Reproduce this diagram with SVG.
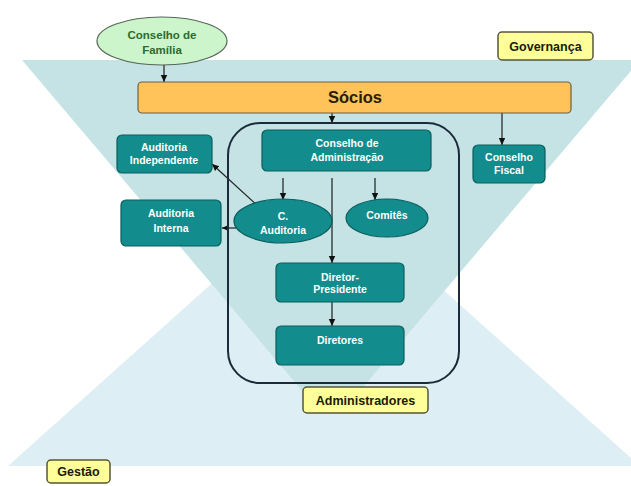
<svg xmlns="http://www.w3.org/2000/svg" width="631" height="486" viewBox="0 0 631 486">
<defs>
<style>
.box{fill:#128c8c;stroke:#0a5e5e;stroke-width:1.2}
.bt{fill:#ffffff;font-family:"Liberation Sans",Arial,sans-serif;font-weight:bold;font-size:10.5px;text-anchor:middle}
.lbl{fill:#ffff99;stroke:#55553a;stroke-width:1.5}
.lt{fill:#1a1a0a;font-family:"Liberation Sans",Arial,sans-serif;font-weight:bold;font-size:12.5px;text-anchor:middle}
.con{stroke:#1e1e1e;stroke-width:1.2;fill:none;marker-end:url(#ah)}
</style>
<marker id="ah" markerWidth="8" markerHeight="8" refX="7" refY="4" orient="auto" markerUnits="userSpaceOnUse">
<path d="M0,0.8 L7,4 L0,7.2 Z" fill="#111"/>
</marker>
</defs>
<rect width="631" height="486" fill="#ffffff"/>
<g id="background">
<polygon points="324,183 640,466 8,466" fill="#ddeff4"/>
<polygon points="22,60 640,60 343.6,410 318.4,410" fill="#c5e2e4"/>
</g>
<g id="connectors">
<line class="con" x1="164" y1="65" x2="164" y2="82"/>
<line class="con" x1="332" y1="113" x2="332" y2="123"/>
<line class="con" x1="502" y1="113" x2="502" y2="145"/>
<line class="con" x1="283" y1="178" x2="283" y2="200"/>
<line class="con" x1="375" y1="178" x2="375" y2="200"/>
<line class="con" x1="332" y1="178" x2="332" y2="263"/>
<line class="con" x1="332" y1="302" x2="332" y2="326"/>
<line class="con" x1="259" y1="207" x2="212" y2="164"/>
<line class="con" x1="236" y1="228" x2="222" y2="228"/>
</g>
<g id="container-administradores">
<rect x="228" y="123" width="231" height="260" rx="32" ry="32" fill="none" stroke="#1c2a3a" stroke-width="2"/>
</g>
<g id="conselho-familia">
<ellipse cx="162" cy="41" rx="65" ry="24" fill="#ccf5cc" stroke="#556655" stroke-width="1.2"/>
<text x="162" y="39" fill="#2d6b2d" font-family="Liberation Sans, Arial, sans-serif" font-weight="bold" font-size="11.5" text-anchor="middle">Conselho de</text>
<text x="162" y="54" fill="#2d6b2d" font-family="Liberation Sans, Arial, sans-serif" font-weight="bold" font-size="11.5" text-anchor="middle">Família</text>
</g>
<g id="governanca">
<rect class="lbl" x="498" y="32" width="95" height="28" rx="4"/>
<text class="lt" x="545.5" y="50.5">Governança</text>
</g>
<g id="socios">
<rect x="138" y="82" width="433" height="31" rx="4" fill="#ffc35a" stroke="#6e6040" stroke-width="1.2"/>
<text x="355" y="103" fill="#2a1c00" font-family="Liberation Sans, Arial, sans-serif" font-weight="bold" font-size="16.5" text-anchor="middle">Sócios</text>
</g>
<g id="conselho-administracao">
<rect class="box" x="262" y="130" width="169" height="41" rx="5"/>
<text class="bt" x="347" y="147">Conselho de</text>
<text class="bt" x="347" y="161">Administração</text>
</g>
<g id="conselho-fiscal">
<rect class="box" x="473" y="145" width="72" height="38" rx="5"/>
<text class="bt" x="509" y="161">Conselho</text>
<text class="bt" x="509" y="174">Fiscal</text>
</g>
<g id="auditoria-independente">
<rect class="box" x="117" y="135" width="95" height="38" rx="5"/>
<text class="bt" x="164" y="151">Auditoria</text>
<text class="bt" x="164" y="164">Independente</text>
</g>
<g id="auditoria-interna">
<rect class="box" x="121" y="200" width="100" height="46" rx="5"/>
<text class="bt" x="171" y="217">Auditoria</text>
<text class="bt" x="171" y="232">Interna</text>
</g>
<g id="c-auditoria">
<ellipse class="box" cx="283" cy="221" rx="49" ry="22"/>
<text class="bt" x="283" y="220">C.</text>
<text class="bt" x="283" y="234">Auditoria</text>
</g>
<g id="comites">
<ellipse class="box" cx="387" cy="218" rx="41" ry="19"/>
<text class="bt" x="387" y="219">Comitês</text>
</g>
<g id="diretor-presidente">
<rect class="box" x="276" y="263" width="128" height="39" rx="5"/>
<text class="bt" x="340" y="281">Diretor-</text>
<text class="bt" x="340" y="293">Presidente</text>
</g>
<g id="diretores">
<rect class="box" x="276" y="326" width="128" height="39" rx="5"/>
<text class="bt" x="340" y="344">Diretores</text>
</g>
<g id="administradores">
<rect class="lbl" x="303" y="387" width="125" height="26" rx="4"/>
<text class="lt" x="365.5" y="404.5">Administradores</text>
</g>
<g id="gestao">
<rect class="lbl" x="47" y="460" width="63" height="23" rx="4"/>
<text class="lt" x="78.5" y="476">Gestão</text>
</g>
</svg>
